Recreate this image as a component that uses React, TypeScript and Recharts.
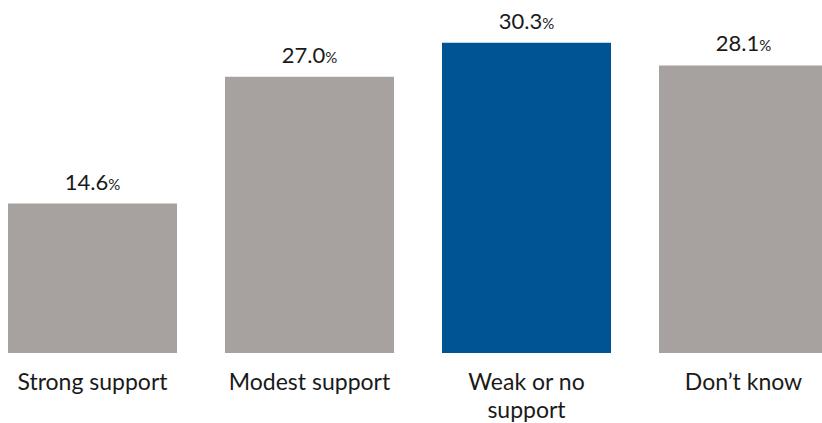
import React from "react";
import { BarChart, Bar, XAxis, YAxis, Cell, LabelList } from "recharts";

const categories = ["Strong support", "Modest support", "Weak or no support", "Don’t know"];
const tickLines = [["Strong support"], ["Modest support"], ["Weak or no", "support"], ["Don’t know"]];
const shares = [14.6, 27.0, 30.3, 28.1];
const highlighted = [false, false, true, false];

const GRAY = "#a7a29f";
const BLUE = "#005494";
const FONT = "Lato, 'Open Sans', sans-serif";

const data = categories.map((c, i) => ({ name: c, value: shares[i], idx: i }));

const ValueLabel = (props: any) => {
  const { x, y, width, value } = props;
  return (
    <text
      x={x + width / 2}
      y={y - 14}
      textAnchor="middle"
      fill="#1a1a1a"
      fontFamily={FONT}
      fontSize={22}
    >
      {Number(value).toFixed(1)}
      <tspan fontSize={15}>%</tspan>
    </text>
  );
};

const Tick = (props: any) => {
  const { x, y, payload } = props;
  const lines = tickLines[payload.index] || [payload.value];
  return (
    <text x={x} y={y} textAnchor="middle" fill="#1a1a1a" fontFamily={FONT} fontSize={23}>
      {lines.map((l: string, i: number) => (
        <tspan key={i} x={x} dy={i === 0 ? 29 : 28}>
          {l}
        </tspan>
      ))}
    </text>
  );
};

export default function App() {
  return (
    <div
      style={{
        position: "absolute",
        left: 0,
        top: 0,
        width: 822,
        height: 423,
        overflow: "hidden",
        background: "#fff",
      }}
    >
      <div style={{ position: "absolute", left: -16, top: 0 }}>
        <BarChart
          width={868}
          height={423}
          data={data}
          margin={{ top: 5, right: 0, bottom: 0, left: 0 }}
          barCategoryGap={24}
        >
          <XAxis
            dataKey="name"
            axisLine={false}
            tickLine={false}
            interval={0}
            height={70}
            tick={<Tick />}
          />
          <YAxis hide domain={[0, 34]} />
          <Bar dataKey="value" isAnimationActive={false}>
            {data.map((d, i) => (
              <Cell key={i} fill={highlighted[i] ? BLUE : GRAY} />
            ))}
            <LabelList dataKey="value" content={<ValueLabel />} />
          </Bar>
        </BarChart>
      </div>
    </div>
  );
}
